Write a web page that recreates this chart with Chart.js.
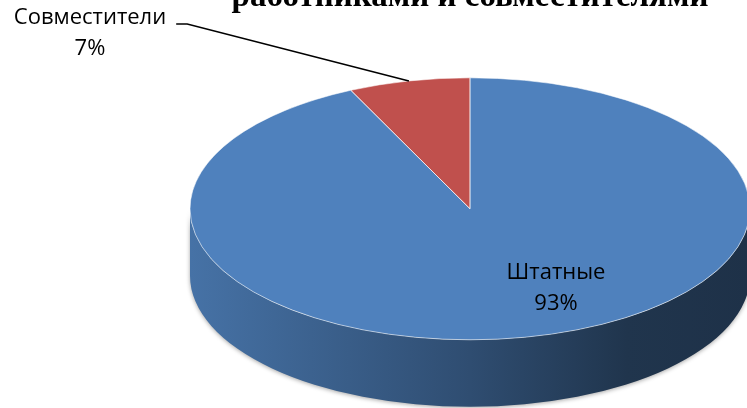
<!DOCTYPE html>
<html lang="ru">
<head>
<meta charset="utf-8">
<script src="https://cdn.jsdelivr.net/npm/chart.js@4"></script>
<style>
  html, body { margin: 0; padding: 0; background: #fff; }
  #wrap { width: 747px; height: 408px; }
</style>
</head>
<body>
<div id="wrap"><canvas id="pieChart" width="747" height="408"></canvas></div>
<script>
const categories = ['Штатные', 'Совместители'];
const shares = [93, 7];
const sliceColors = ['#4f81bd', '#c0504d'];
const titleText = 'работниками и совместителями';

// tilt of the disc: half-axes of the top face and thickness of the side
const RX = 280, RY = 131, DEPTH = 67;

const labelFont = '22px "Open Sans", "Noto Sans", sans-serif';
// where each data label sits (centre of the first line)
const labelSpots = [
  { x: 556, y: 273 },
  { x: 90, y: 18, leader: true }
];

function shade(hex, f) {
  const n = parseInt(hex.slice(1), 16);
  const r = Math.round(((n >> 16) & 255) * f);
  const g = Math.round(((n >> 8) & 255) * f);
  const b = Math.round((n & 255) * f);
  return `rgb(${r},${g},${b})`;
}

const pie3d = {
  id: 'pie3d',
  beforeDatasetsDraw(chart) {
    const ctx = chart.ctx;
    const arcs = chart.getDatasetMeta(0).data;
    const cx = arcs[0].x, cy = arcs[0].y;
    // side wall - only the front half of the disc shows
    arcs.forEach((arc, i) => {
      const col = sliceColors[i];
      for (let k = -1; k <= 1; k++) {
        const s = Math.max(arc.startAngle, 2 * Math.PI * k);
        const e = Math.min(arc.endAngle, 2 * Math.PI * k + Math.PI);
        if (s >= e) continue;
        const grad = ctx.createLinearGradient(cx - RX, 0, cx + RX, 0);
        grad.addColorStop(0, shade(col, 0.88));
        grad.addColorStop(0.5, shade(col, 0.6));
        grad.addColorStop(0.78, shade(col, 0.41));
        grad.addColorStop(1, shade(col, 0.38));
        ctx.save();
        ctx.beginPath();
        ctx.ellipse(cx, cy, RX, RY, 0, s, e);
        ctx.ellipse(cx, cy + DEPTH, RX, RY, 0, e, s, true);
        ctx.closePath();
        ctx.shadowColor = 'rgba(0,0,0,0.35)';
        ctx.shadowBlur = 4;
        ctx.shadowOffsetY = 1;
        ctx.fillStyle = grad;
        ctx.fill();
        ctx.restore();
      }
    });
    // squash the round pie into the top face
    const r = arcs[0].outerRadius;
    ctx.save();
    ctx.translate(cx, cy);
    ctx.scale(RX / r, RY / r);
    ctx.translate(-cx, -cy);
  },
  afterDatasetsDraw(chart) {
    const ctx = chart.ctx;
    ctx.restore();
    const arcs = chart.getDatasetMeta(0).data;
    ctx.save();
    ctx.strokeStyle = 'rgba(255,255,255,0.55)';
    ctx.lineWidth = 1;
    arcs.forEach(arc => {
      ctx.beginPath();
      ctx.moveTo(arc.x, arc.y);
      ctx.ellipse(arc.x, arc.y, RX, RY, 0, arc.startAngle, arc.endAngle);
      ctx.closePath();
      ctx.stroke();
    });
    ctx.restore();
  }
};

const sliceLabels = {
  id: 'sliceLabels',
  afterDraw(chart) {
    const ctx = chart.ctx;
    const arcs = chart.getDatasetMeta(0).data;
    const total = shares.reduce((a, b) => a + b, 0);
    ctx.save();
    ctx.font = labelFont;
    ctx.fillStyle = '#000';
    ctx.textAlign = 'center';
    ctx.textBaseline = 'middle';
    arcs.forEach((arc, i) => {
      const spot = labelSpots[i];
      const pct = Math.round(shares[i] / total * 100) + '%';
      ctx.fillText(categories[i], spot.x, spot.y);
      ctx.fillText(pct, spot.x, spot.y + 31);
      if (spot.leader) {
        const w = ctx.measureText(categories[i]).width;
        const x0 = spot.x + w / 2 + 10;
        const ly = spot.y + 6;
        const mid = (arc.startAngle + arc.endAngle) / 2;
        const ex = arc.x + RX * Math.cos(mid);
        const ey = arc.y + RY * Math.sin(mid);
        ctx.beginPath();
        ctx.moveTo(x0, ly);
        ctx.lineTo(x0 + 11, ly);
        ctx.lineTo(ex, ey);
        ctx.strokeStyle = '#000';
        ctx.lineWidth = 1.5;
        ctx.stroke();
      }
    });
    ctx.restore();
  }
};

new Chart(document.getElementById('pieChart'), {
  type: 'pie',
  data: {
    labels: categories,
    datasets: [{
      data: shares,
      backgroundColor: sliceColors,
      borderWidth: 0,
      clip: false
    }]
  },
  options: {
    responsive: false,
    animation: false,
    events: [],
    layout: { padding: { left: 193, bottom: 8 } },
    plugins: {
      legend: { display: false },
      tooltip: { enabled: false },
      title: {
        display: true,
        text: titleText,
        color: '#000',
        font: { family: '"Liberation Serif", "Times New Roman", serif', size: 33, weight: 'bold', lineHeight: 1.2 },
        padding: { top: -22, bottom: 0 }
      }
    }
  },
  plugins: [pie3d, sliceLabels]
});
</script>
</body>
</html>
